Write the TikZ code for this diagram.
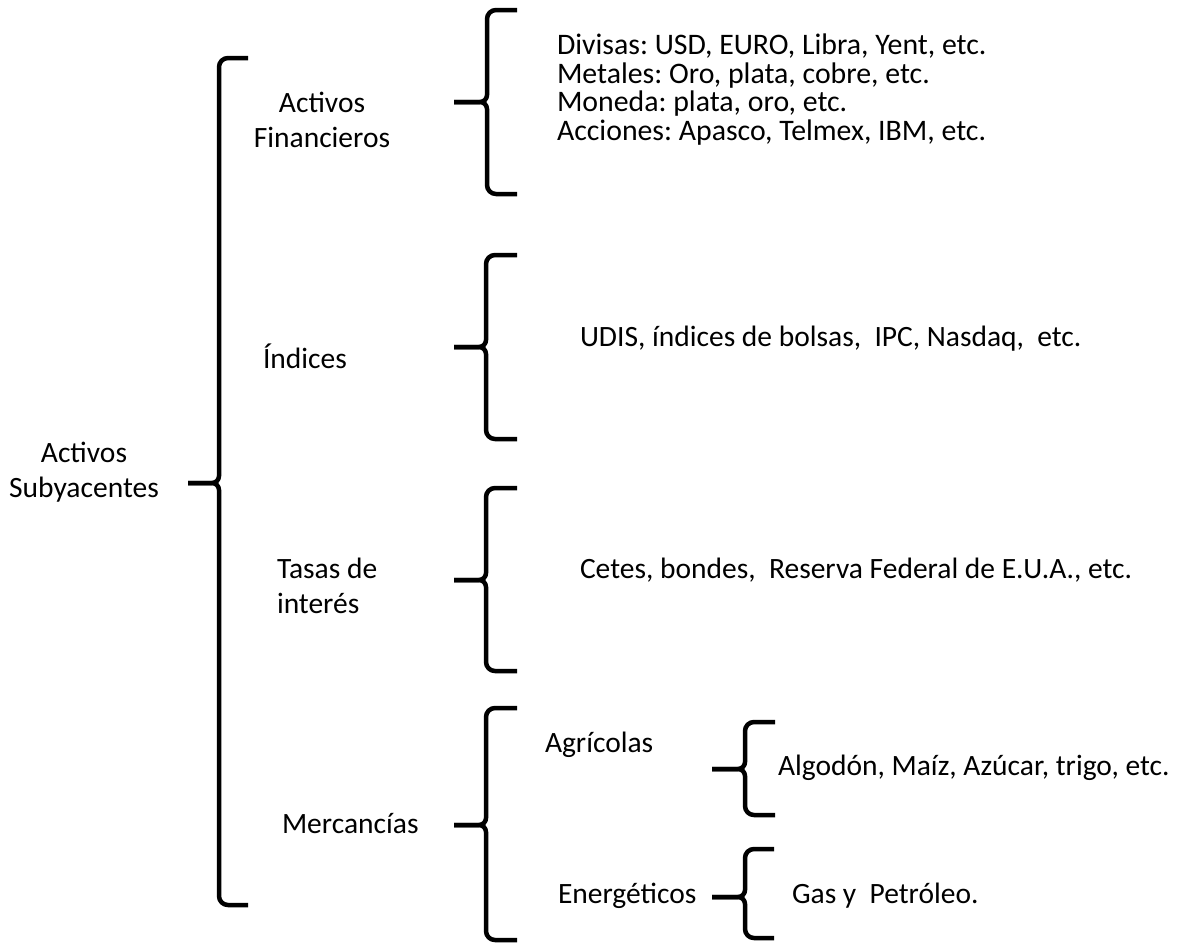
\documentclass[tikz,border=0pt]{standalone}
\usepackage{fontspec}
\setmainfont{Carlito}
\frenchspacing
\newcommand\mybrace[7]{%
  % #1 name, #2 xv, #3 top, #4 mid, #5 bot, #6 left, #7 tip
  \coordinate (#1-l) at (#6,#4);
  \coordinate (#1-t) at (#7,#3);
  \coordinate (#1-b) at (#7,#5);
  \draw[bracestyle] (#1-t) -- ({#2+9},#3) to[out=180,in=90] (#2,{#3+9}) -- (#2,{#4-7}) to[out=-90,in=0] ({#2-7},#4) -- (#1-l);
  \draw[bracestyle] (#1-l) -- ({#2-7},#4) to[out=0,in=90] (#2,{#4+7}) -- (#2,{#5-9}) to[out=-90,in=180] ({#2+9},#5) -- (#1-b);
}
\begin{document}
\begin{tikzpicture}[x=1pt,y=-1pt,
  every node/.style={inner sep=0pt, outer sep=0pt, font=\fontsize{29.5}{35}\selectfont, text=black},
  lbl/.style={anchor=base west, align=left},
  clbl/.style={anchor=base, align=center},
  bracestyle/.style={line width=4.5pt, line cap=butt, line join=round, draw=black}]
\useasboundingbox (0,0) rectangle (1183,951);

% braces
\mybrace{b0}{219}{58}{483}{905}{188}{248}
\mybrace{b1}{487}{10}{102}{194}{454}{517}
\mybrace{b2}{486}{255}{347}{439}{454}{517}
\mybrace{b3}{486}{488}{580}{671}{454}{517}
\mybrace{b4}{486}{708}{825}{940}{454}{517}
\mybrace{b5}{745}{722}{769}{815}{712}{775}
\mybrace{b6}{745}{849}{897}{938}{712}{774}

% labels (multi-line nodes: base = last line)
\node[clbl] (root) at (84,497) {Activos\\Subyacentes};
\node[clbl] (fin) at (322,147) {Activos\\Financieros};
\node[lbl] (ind) at (263,368) {Índices};
\node[lbl] (tas) at (277,613) {Tasas de\\interés};
\node[lbl] (mer) at (282,833) {Mercancías};
\node[lbl] (agr) at (545,752) {Agrícolas};
\node[lbl] (ene) at (558,903) {Energéticos};

\node[lbl, font=\fontsize{29.8}{28.5}\selectfont] (finlist) at (557,140)
  {Divisas: USD, EURO, Libra, Yent, etc.\\Metales: Oro, plata, cobre, etc.\\Moneda: plata, oro, etc.\\Acciones: Apasco, Telmex, IBM, etc.};
\node[lbl] (indlist) at (580,346) {UDIS, índices de bolsas,\ \ IPC, Nasdaq,\ \ etc.};
\node[lbl] (taslist) at (580,578) {Cetes, bondes,\ \ Reserva Federal de E.U.A., etc.};
\node[lbl] (agrlist) at (778,775) {Algodón,\ Maíz, Azúcar, trigo, etc.};
\node[lbl] (enelist) at (792,903) {Gas y\ \ Petróleo.};
\end{tikzpicture}
\end{document}
